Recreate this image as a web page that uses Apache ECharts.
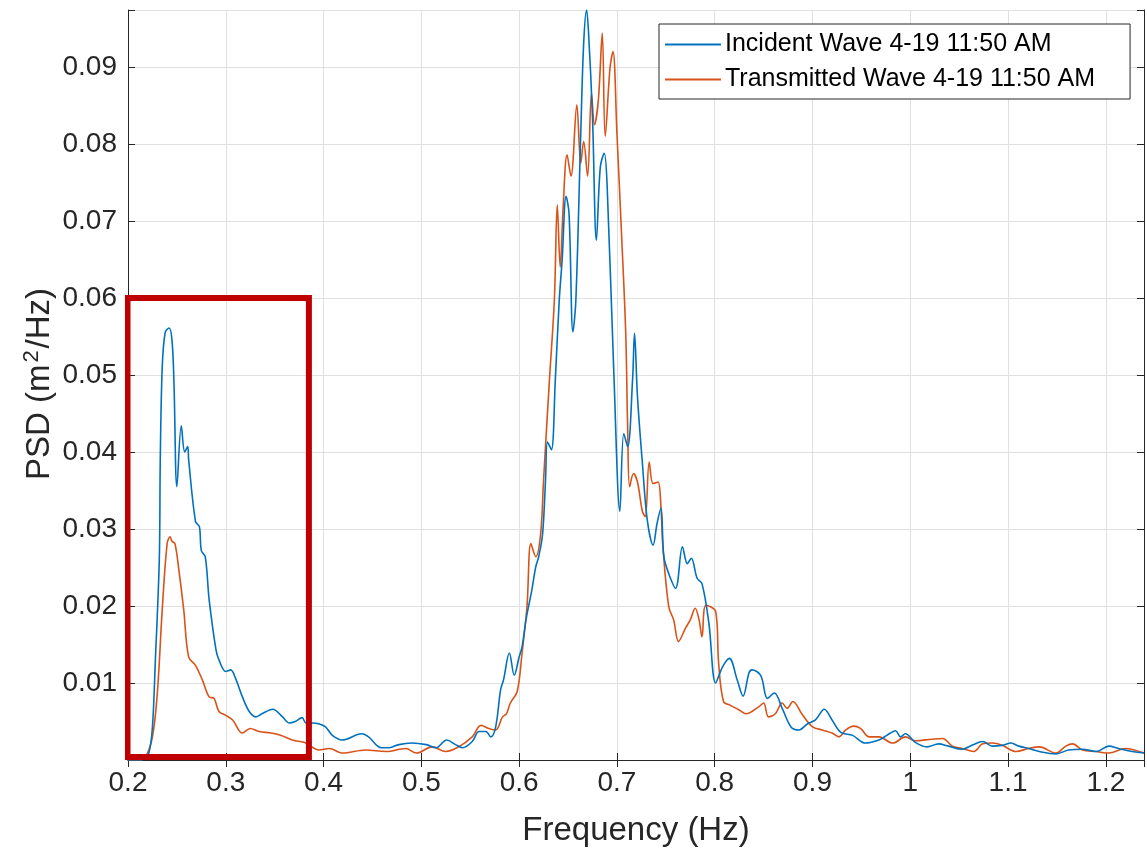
<!DOCTYPE html>
<html>
<head>
<meta charset="utf-8">
<script src="https://cdn.jsdelivr.net/npm/echarts@6/dist/echarts.min.js"></script>
<style>
html,body{margin:0;padding:0;background:#fff;}
#chart{width:1147px;height:852px;}
</style>
</head>
<body>
<div id="chart"></div>
<script>
// ---- Data ----
const seriesNames = ['Incident Wave 4-19 11:50 AM', 'Transmitted Wave 4-19 11:50 AM'];

const incidentFreq = [0.200,0.210,0.216,0.2215,0.225,0.228,0.232,0.233,0.235,0.238,0.242,0.245,0.247,0.250,0.2545,0.258,0.261,0.262,0.269,0.273,0.275,0.279,0.283,0.290,0.293,0.300,0.305,0.310,0.317,0.324,0.331,0.337,0.348,0.358,0.365,0.371,0.378,0.382,0.388,0.395,0.402,0.409,0.419,0.439,0.446,0.459,0.467,0.477,0.490,0.505,0.515,0.526,0.535,0.542,0.552,0.559,0.566,0.571,0.576,0.581,0.584,0.590,0.595,0.600,0.603,0.607,0.613,0.617,0.620,0.624,0.627,0.629,0.633,0.637,0.641,0.644,0.648,0.651,0.655,0.658,0.663,0.666,0.669,0.671,0.675,0.679,0.683,0.687,0.690,0.697,0.703,0.707,0.711,0.716,0.718,0.721,0.726,0.731,0.737,0.741,0.745,0.748,0.753,0.760,0.767,0.772,0.776,0.782,0.787,0.794,0.801,0.808,0.815,0.823,0.829,0.835,0.838,0.847,0.854,0.861,0.869,0.878,0.886,0.895,0.903,0.912,0.920,0.929,0.941,0.954,0.968,0.976,0.985,0.990,0.995,1.005,1.017,1.029,1.039,1.053,1.063,1.074,1.084,1.094,1.103,1.111,1.121,1.132,1.149,1.162,1.176,1.190,1.203,1.213,1.227,1.239];
const incidentPSD  = [0.0000,0.0000,0.0001,0.0010,0.0043,0.0130,0.0260,0.0390,0.0510,0.0555,0.0561,0.0545,0.0490,0.0355,0.0434,0.0400,0.0407,0.0390,0.0310,0.0303,0.0272,0.0264,0.0208,0.0143,0.0130,0.0115,0.0117,0.0106,0.0082,0.0063,0.0056,0.0060,0.0066,0.0056,0.0048,0.0050,0.0055,0.0048,0.0048,0.0047,0.0043,0.0032,0.0026,0.0034,0.0030,0.0016,0.0016,0.0020,0.0022,0.0020,0.0016,0.0026,0.0020,0.0016,0.0024,0.0037,0.0037,0.0030,0.0043,0.0091,0.0104,0.0139,0.0110,0.0134,0.0147,0.0182,0.0221,0.0251,0.0264,0.0294,0.0364,0.0413,0.0403,0.0494,0.0597,0.0650,0.0732,0.0710,0.0556,0.0597,0.0814,0.0931,0.0974,0.0944,0.0835,0.0675,0.0770,0.0788,0.0745,0.0496,0.0323,0.0424,0.0407,0.0494,0.0554,0.0472,0.0386,0.0312,0.0279,0.0307,0.0327,0.0264,0.0242,0.0223,0.0277,0.0255,0.0262,0.0236,0.0229,0.0178,0.0100,0.0121,0.0132,0.0104,0.0083,0.0113,0.0117,0.0110,0.0080,0.0087,0.0067,0.0043,0.0039,0.0047,0.0052,0.0066,0.0052,0.0036,0.0032,0.0022,0.0026,0.0032,0.0038,0.0030,0.0034,0.0023,0.0017,0.0021,0.0018,0.0014,0.0019,0.0024,0.0018,0.0019,0.0022,0.0018,0.0015,0.0011,0.0008,0.0013,0.0014,0.0011,0.0018,0.0015,0.0011,0.0009];

const transmittedFreq = [0.200,0.212,0.218,0.225,0.230,0.235,0.240,0.243,0.245,0.248,0.252,0.257,0.262,0.269,0.276,0.283,0.288,0.293,0.300,0.307,0.317,0.325,0.334,0.346,0.356,0.368,0.382,0.395,0.406,0.419,0.443,0.464,0.484,0.495,0.511,0.525,0.538,0.552,0.561,0.569,0.576,0.583,0.587,0.591,0.598,0.603,0.608,0.612,0.617,0.622,0.625,0.631,0.636,0.639,0.642,0.645,0.649,0.653,0.659,0.663,0.666,0.670,0.674,0.677,0.681,0.685,0.688,0.693,0.696,0.700,0.705,0.709,0.711,0.713,0.717,0.721,0.726,0.729,0.733,0.737,0.742,0.745,0.747,0.753,0.758,0.763,0.770,0.775,0.780,0.784,0.787,0.791,0.801,0.804,0.809,0.816,0.825,0.832,0.845,0.850,0.855,0.862,0.869,0.874,0.880,0.889,0.900,0.910,0.920,0.927,0.934,0.942,0.949,0.958,0.968,0.982,0.995,1.005,1.022,1.033,1.043,1.053,1.065,1.074,1.084,1.094,1.108,1.121,1.132,1.149,1.159,1.166,1.176,1.190,1.203,1.220,1.239];
const transmittedPSD  = [0.0000,0.0000,0.0004,0.0030,0.0087,0.0195,0.0281,0.0290,0.0284,0.0281,0.0247,0.0195,0.0134,0.0123,0.0104,0.0082,0.0080,0.0063,0.0058,0.0052,0.0035,0.0041,0.0037,0.0035,0.0032,0.0026,0.0022,0.0013,0.0015,0.0009,0.0013,0.0011,0.0015,0.0009,0.0017,0.0011,0.0017,0.0030,0.0045,0.0041,0.0039,0.0056,0.0060,0.0074,0.0089,0.0139,0.0199,0.0281,0.0264,0.0294,0.0364,0.0494,0.0597,0.0721,0.0640,0.0718,0.0786,0.0758,0.0851,0.0775,0.0803,0.0758,0.0866,0.0825,0.0857,0.0944,0.0810,0.0900,0.0920,0.0814,0.0675,0.0554,0.0430,0.0355,0.0372,0.0361,0.0323,0.0316,0.0387,0.0359,0.0361,0.0329,0.0277,0.0199,0.0182,0.0154,0.0171,0.0182,0.0197,0.0182,0.0160,0.0201,0.0193,0.0126,0.0076,0.0071,0.0065,0.0060,0.0069,0.0074,0.0056,0.0060,0.0074,0.0067,0.0076,0.0060,0.0043,0.0039,0.0035,0.0030,0.0039,0.0044,0.0041,0.0030,0.0030,0.0022,0.0030,0.0025,0.0027,0.0028,0.0018,0.0015,0.0011,0.0021,0.0022,0.0019,0.0011,0.0015,0.0017,0.0009,0.0018,0.0021,0.0013,0.0011,0.0009,0.0015,0.0009];

// Highlight box (data coordinates: frequency range and PSD range)
const boxFreq = [0.1995, 0.1995, 0.385, 0.385, 0.1995];
const boxPSD  = [0.0004, 0.060, 0.060, 0.0004, 0.0004];

const xTicks = [0.2,0.3,0.4,0.5,0.6,0.7,0.8,0.9,1.0,1.1,1.2];
const yTicks = [0.01,0.02,0.03,0.04,0.05,0.06,0.07,0.08,0.09];
const yTitle = 'PSD (m{sup|2}/Hz)';

// ---- Build ----
const zip = (a, b) => a.map((v, i) => [v, b[i]]);
const FONT = '"Liberation Sans", Arial, Helvetica, sans-serif';
const X_MIN = 0.2, X_MAX = 1.239, Y_MIN = 0, Y_MAX = 0.0974;
const isTick = (v, list) => list.some(t => Math.abs(t - v) < 1e-6);

const axisLineStyle = { color: '#262626', width: 1 };
const gridLine = { show: true, lineStyle: { color: '#e0e0e0', width: 1 } };

const chart = echarts.init(document.getElementById('chart'), null, { renderer: 'canvas' });
chart.setOption({
  backgroundColor: '#ffffff',
  animation: false,
  grid: { left: 128, right: 2, top: 10, bottom: 92, containLabel: false },
  graphic: [{
    type: 'text', x: 40, y: 384, rotation: Math.PI / 2, silent: true,
    style: {
      text: yTitle, align: 'center', verticalAlign: 'middle',
      fontFamily: FONT, fontSize: 33, fill: '#262626',
      rich: { sup: { fontFamily: FONT, fontSize: 22, fill: '#262626', verticalAlign: 'top', padding: [0, 2, 16, 2] } }
    }
  }],
  legend: {
    data: seriesNames,
    orient: 'vertical',
    left: 659, top: 24,
    backgroundColor: '#ffffff',
    borderColor: '#262626', borderWidth: 1,
    padding: [8, 35, 7, 6],
    itemGap: 10,
    itemWidth: 56, itemHeight: 2,
    icon: 'rect',
    textStyle: { fontFamily: FONT, fontSize: 25, color: '#000000', padding: [0,0,0,-1] }
  },
  xAxis: [{
    type: 'value', min: X_MIN, max: X_MAX, interval: 0.1,
    name: 'Frequency (Hz)', nameLocation: 'middle', nameGap: 54,
    nameTextStyle: { fontFamily: FONT, fontSize: 33, color: '#262626' },
    axisLine: { show: true, lineStyle: axisLineStyle },
    axisTick: { show: true, inside: true, length: 7, lineStyle: axisLineStyle },
    axisLabel: { fontFamily: FONT, fontSize: 28, color: '#262626', margin: 9,
      formatter: v => isTick(v, xTicks) ? String(parseFloat(v.toFixed(1))) : '' },
    splitLine: gridLine
  }, {
    type: 'value', min: X_MIN, max: X_MAX, interval: 0.1, position: 'top',
    axisLine: { show: true, lineStyle: axisLineStyle },
    axisTick: { show: true, inside: true, length: 7, lineStyle: axisLineStyle },
    axisLabel: { show: false }, splitLine: { show: false }
  }],
  yAxis: [{
    type: 'value', min: Y_MIN, max: Y_MAX, interval: 0.01,
    axisLine: { show: true, lineStyle: axisLineStyle },
    axisTick: { show: true, inside: true, length: 7, lineStyle: axisLineStyle },
    axisLabel: { fontFamily: FONT, fontSize: 28, color: '#262626', margin: 11,
      formatter: v => isTick(v, yTicks) ? v.toFixed(2) : '' },
    splitLine: gridLine
  }, {
    type: 'value', min: Y_MIN, max: Y_MAX, interval: 0.01, position: 'right',
    axisLine: { show: true, lineStyle: axisLineStyle },
    axisTick: { show: true, inside: true, length: 7, lineStyle: axisLineStyle },
    axisLabel: { show: false }, splitLine: { show: false }
  }],
  series: [{
    name: seriesNames[0], type: 'line', data: zip(incidentFreq, incidentPSD),
    showSymbol: false, smooth: 0.35, color: '#0072BD',
    lineStyle: { width: 1.6, color: '#0072BD' }, z: 3
  }, {
    name: seriesNames[1], type: 'line', data: zip(transmittedFreq, transmittedPSD),
    showSymbol: false, smooth: 0.35, color: '#D95319',
    lineStyle: { width: 1.6, color: '#D95319' }, z: 2
  }, {
    name: 'box', type: 'line', data: zip(boxFreq, boxPSD),
    showSymbol: false, silent: true, clip: false,
    lineStyle: { width: 6, color: '#C00000', join: 'miter', cap: 'square' }, z: 5
  }]
});
</script>
</body>
</html>
